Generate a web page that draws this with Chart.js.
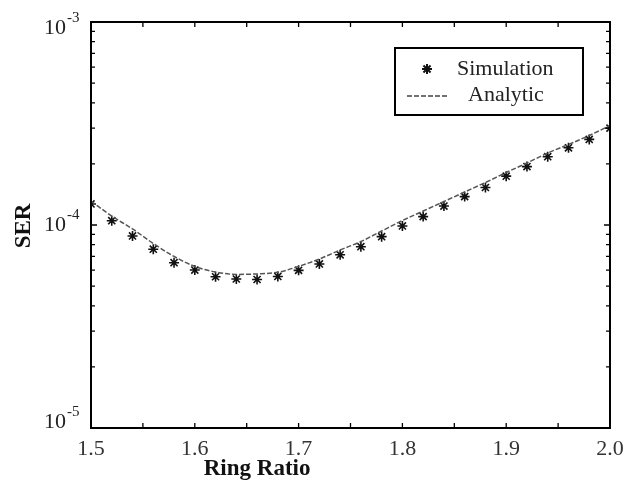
<!DOCTYPE html>
<html>
<head>
<meta charset="utf-8">
<script src="https://cdn.jsdelivr.net/npm/chart.js@4.4.1/dist/chart.umd.min.js"></script>
<style>
html,body{margin:0;padding:0;background:#fff}
#wrap{width:634px;height:484px;position:relative}
</style>
</head>
<body>
<div id="wrap"><canvas id="c" width="634" height="484"></canvas></div>
<script>
// ---- data ----
const ringRatio = [1.50,1.52,1.54,1.56,1.58,1.60,1.62,1.64,1.66,1.68,1.70,1.72,1.74,
                   1.76,1.78,1.80,1.82,1.84,1.86,1.88,1.90,1.92,1.94,1.96,1.98,2.00];
const simulationSER = [1.27e-4,1.05e-4,8.83e-5,7.6e-5,6.52e-5,6.0e-5,5.56e-5,5.42e-5,5.39e-5,5.58e-5,
                       5.98e-5,6.43e-5,7.13e-5,7.82e-5,8.76e-5,9.89e-5,1.10e-4,1.24e-4,1.38e-4,1.53e-4,
                       1.74e-4,1.94e-4,2.17e-4,2.40e-4,2.64e-4,3.0e-4];
const analyticSER = [1.31e-4,1.107e-4,9.56e-5,8.11e-5,7.0e-5,6.25e-5,5.87e-5,5.71e-5,5.74e-5,5.85e-5,
                     6.25e-5,6.80e-5,7.53e-5,8.29e-5,9.34e-5,1.052e-4,1.172e-4,1.305e-4,1.454e-4,1.62e-4,
                     1.814e-4,2.02e-4,2.263e-4,2.492e-4,2.76e-4,3.091e-4];
const xMin = 1.5, xMax = 2.0, xTickStep = 0.05;
const yDecades = [1e-5, 1e-4, 1e-3];
const minorMultipliers = [2,3,4,5,6,7,8,9];
const xTitle = 'Ring Ratio';
const yTitle = 'SER';
const seriesNames = ['Simulation', 'Analytic'];

const serif = "'Liberation Serif','Times New Roman',serif";

const framePlugin = {
  id: 'frame',
  afterDatasetsDraw(chart) {
    const {ctx, chartArea: a, scales: {x, y}} = chart;
    ctx.save();
    ctx.strokeStyle = '#000';
    ctx.lineWidth = 1.3;
    ctx.beginPath();
    x.ticks.forEach(t => {
      const px = x.getPixelForValue(t.value);
      ctx.moveTo(px, a.bottom); ctx.lineTo(px, a.bottom - 5);
      ctx.moveTo(px, a.top); ctx.lineTo(px, a.top + 5);
    });
    yDecades.forEach((d, i) => {
      const py = y.getPixelForValue(d);
      ctx.moveTo(a.left, py); ctx.lineTo(a.left + 6, py);
      ctx.moveTo(a.right, py); ctx.lineTo(a.right - 6, py);
      if (i < yDecades.length - 1) {
        minorMultipliers.forEach(m => {
          const pm = y.getPixelForValue(d * m);
          ctx.moveTo(a.left, pm); ctx.lineTo(a.left + 4, pm);
          ctx.moveTo(a.right, pm); ctx.lineTo(a.right - 4, pm);
        });
      }
    });
    ctx.stroke();
    ctx.lineWidth = 2;
    ctx.strokeRect(a.left, a.top, a.right - a.left, a.bottom - a.top);

    // y tick labels 10^n
    ctx.fillStyle = '#222';
    ctx.textBaseline = 'middle';
    yDecades.forEach(d => {
      const py = y.getPixelForValue(d);
      const cy = Math.min(Math.max(py, a.top + 6), a.bottom - 5.5);
      const e = Math.round(Math.log10(d));
      ctx.font = '22px ' + serif;
      ctx.textAlign = 'right';
      ctx.fillText('10', a.left - 25, cy);
      ctx.font = '15px ' + serif;
      ctx.textAlign = 'left';
      ctx.fillText(String(e), a.left - 24, cy - 10);
    });

    // axis titles
    ctx.fillStyle = '#111';
    ctx.font = 'bold 23px ' + serif;
    ctx.textAlign = 'center';
    ctx.textBaseline = 'alphabetic';
    ctx.fillText(xTitle, x.getPixelForValue(1.66), 475);
    ctx.save();
    ctx.translate(24.5, (a.top + a.bottom) / 2 + 1);
    ctx.rotate(-Math.PI / 2);
    ctx.textBaseline = 'middle';
    ctx.fillText(yTitle, 0, 0);
    ctx.restore();

    // legend
    const lx = 395, ly = 48, lw = 188, lh = 67;
    ctx.fillStyle = '#fff';
    ctx.fillRect(lx, ly, lw, lh);
    ctx.lineWidth = 2;
    ctx.strokeStyle = '#000';
    ctx.strokeRect(lx, ly, lw, lh);
    ctx.strokeStyle = '#111';
    Chart.helpers.drawPoint(ctx, {pointStyle: 'star', radius: 5, rotation: 0, borderWidth: 1.6}, lx + 32, ly + 21);
    ctx.strokeStyle = '#444';
    ctx.lineWidth = 1.5;
    ctx.setLineDash([5, 2]);
    ctx.beginPath();
    ctx.moveTo(lx + 12, ly + 48); ctx.lineTo(lx + 52, ly + 48);
    ctx.stroke();
    ctx.setLineDash([]);
    ctx.fillStyle = '#222';
    ctx.font = '22px ' + serif;
    ctx.textAlign = 'left';
    ctx.textBaseline = 'middle';
    ctx.fillText(seriesNames[0], lx + 62, ly + 21);
    ctx.fillText(seriesNames[1], lx + 73, ly + 47);
    ctx.restore();
  }
};

new Chart(document.getElementById('c'), {
  type: 'line',
  data: {
    datasets: [
      {
        label: seriesNames[1],
        data: ringRatio.map((r, i) => ({x: r, y: analyticSER[i]})),
        borderColor: '#555',
        borderWidth: 1.5,
        borderDash: [5, 2],
        pointRadius: 0,
        cubicInterpolationMode: 'monotone',
        fill: false
      },
      {
        label: seriesNames[0],
        data: ringRatio.map((r, i) => ({x: r, y: simulationSER[i]})),
        showLine: false,
        pointStyle: 'star',
        pointRadius: 5,
        pointBorderWidth: 1.6,
        pointBorderColor: '#111',
        pointBackgroundColor: '#111'
      }
    ]
  },
  options: {
    responsive: false,
    animation: false,
    layout: {padding: {top: 22, right: 24, left: 0, bottom: 0}},
    plugins: {legend: {display: false}, tooltip: {enabled: false}},
    scales: {
      x: {
        type: 'linear',
        min: xMin, max: xMax,
        grid: {display: false, drawTicks: false},
        border: {display: false},
        ticks: {
          stepSize: xTickStep,
          autoSkip: false,
          maxRotation: 0,
          padding: 8,
          color: '#333',
          font: {family: serif, size: 22},
          callback: v => Math.abs(v * 10 - Math.round(v * 10)) < 1e-6 ? v.toFixed(1) : ''
        },
        afterFit: s => { s.height = 56; }
      },
      y: {
        type: 'logarithmic',
        min: yDecades[0], max: yDecades[yDecades.length - 1],
        grid: {display: false, drawTicks: false},
        border: {display: false},
        ticks: {display: false},
        afterFit: s => { s.width = 91; }
      }
    }
  },
  plugins: [framePlugin]
});
</script>
</body>
</html>
